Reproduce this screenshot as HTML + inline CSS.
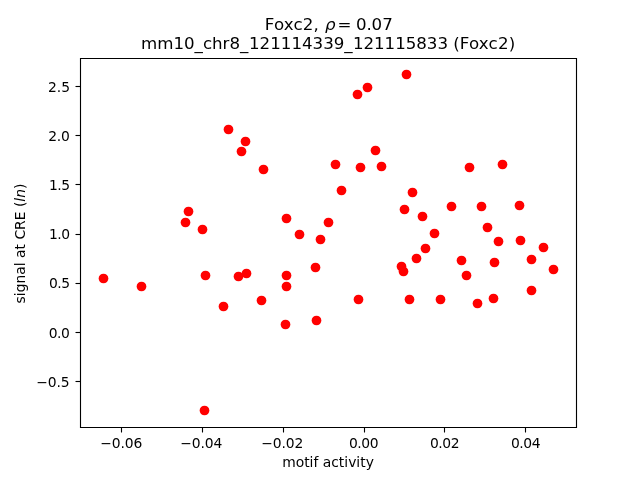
<!DOCTYPE html>
<html lang="en">
<head>
<meta charset="utf-8">
<title>Foxc2 motif activity vs signal at CRE</title>
<style>
html,body{margin:0;padding:0;background:#fff;}
body{width:640px;height:480px;overflow:hidden;}
svg{display:block;}
text{font-family:"DejaVu Sans","Liberation Sans",sans-serif;fill:#000;}
.tk{font-size:13.889px;}
.lb{font-size:13.889px;}
.tt{font-size:16.667px;}
.it{font-style:italic;}
</style>
</head>
<body>
<svg width="640" height="480" viewBox="0 0 640 480">
<rect x="0" y="0" width="640" height="480" fill="#ffffff"/>
<g fill="#ff0000">
<circle cx="228.5" cy="129.5" r="4.86"/>
<circle cx="245.5" cy="141.5" r="4.86"/>
<circle cx="241.5" cy="151.5" r="4.86"/>
<circle cx="263.5" cy="169.5" r="4.86"/>
<circle cx="357.5" cy="94.5" r="4.86"/>
<circle cx="367.5" cy="87.5" r="4.86"/>
<circle cx="335.5" cy="164.5" r="4.86"/>
<circle cx="360.5" cy="167.5" r="4.86"/>
<circle cx="375.5" cy="150.5" r="4.86"/>
<circle cx="381.5" cy="166.5" r="4.86"/>
<circle cx="406.5" cy="74.5" r="4.86"/>
<circle cx="469.5" cy="167.5" r="4.86"/>
<circle cx="502.5" cy="164.5" r="4.86"/>
<circle cx="188.5" cy="211.5" r="4.86"/>
<circle cx="185.5" cy="222.5" r="4.86"/>
<circle cx="202.5" cy="229.5" r="4.86"/>
<circle cx="103.5" cy="278.5" r="4.86"/>
<circle cx="141.5" cy="286.5" r="4.86"/>
<circle cx="205.5" cy="275.5" r="4.86"/>
<circle cx="238.5" cy="276.5" r="4.86"/>
<circle cx="341.5" cy="190.5" r="4.86"/>
<circle cx="286.5" cy="218.5" r="4.86"/>
<circle cx="328.5" cy="222.5" r="4.86"/>
<circle cx="299.5" cy="234.5" r="4.86"/>
<circle cx="320.5" cy="239.5" r="4.86"/>
<circle cx="315.5" cy="267.5" r="4.86"/>
<circle cx="246.5" cy="273.5" r="4.86"/>
<circle cx="286.5" cy="275.5" r="4.86"/>
<circle cx="286.5" cy="286.5" r="4.86"/>
<circle cx="412.5" cy="192.5" r="4.86"/>
<circle cx="404.5" cy="209.5" r="4.86"/>
<circle cx="422.5" cy="216.5" r="4.86"/>
<circle cx="451.5" cy="206.5" r="4.86"/>
<circle cx="481.5" cy="206.5" r="4.86"/>
<circle cx="519.5" cy="205.5" r="4.86"/>
<circle cx="487.5" cy="227.5" r="4.86"/>
<circle cx="434.5" cy="233.5" r="4.86"/>
<circle cx="498.5" cy="241.5" r="4.86"/>
<circle cx="520.5" cy="240.5" r="4.86"/>
<circle cx="425.5" cy="248.5" r="4.86"/>
<circle cx="416.5" cy="258.5" r="4.86"/>
<circle cx="461.5" cy="260.5" r="4.86"/>
<circle cx="494.5" cy="262.5" r="4.86"/>
<circle cx="401.5" cy="266.5" r="4.86"/>
<circle cx="403.5" cy="271.5" r="4.86"/>
<circle cx="466.5" cy="275.5" r="4.86"/>
<circle cx="543.5" cy="247.5" r="4.86"/>
<circle cx="531.5" cy="259.5" r="4.86"/>
<circle cx="553.5" cy="269.5" r="4.86"/>
<circle cx="531.5" cy="290.5" r="4.86"/>
<circle cx="223.5" cy="306.5" r="4.86"/>
<circle cx="261.5" cy="300.5" r="4.86"/>
<circle cx="358.5" cy="299.5" r="4.86"/>
<circle cx="285.5" cy="324.5" r="4.86"/>
<circle cx="316.5" cy="320.5" r="4.86"/>
<circle cx="409.5" cy="299.5" r="4.86"/>
<circle cx="440.5" cy="299.5" r="4.86"/>
<circle cx="477.5" cy="303.5" r="4.86"/>
<circle cx="493.5" cy="298.5" r="4.86"/>
<circle cx="204.5" cy="410.5" r="4.86"/>
</g>
<g fill="none" stroke="#000" stroke-width="1.11" stroke-linecap="square">
<path d="M80.5 58.5H576.5V427.5H80.5Z"/>
</g>
<g stroke="#000" stroke-width="1.11">
<line x1="121.5" y1="427.5" x2="121.5" y2="432.5"/>
<line x1="202.5" y1="427.5" x2="202.5" y2="432.5"/>
<line x1="283.5" y1="427.5" x2="283.5" y2="432.5"/>
<line x1="364.5" y1="427.5" x2="364.5" y2="432.5"/>
<line x1="444.5" y1="427.5" x2="444.5" y2="432.5"/>
<line x1="525.5" y1="427.5" x2="525.5" y2="432.5"/>
<line x1="80.5" y1="86.5" x2="75.5" y2="86.5"/>
<line x1="80.5" y1="135.5" x2="75.5" y2="135.5"/>
<line x1="80.5" y1="184.5" x2="75.5" y2="184.5"/>
<line x1="80.5" y1="234.5" x2="75.5" y2="234.5"/>
<line x1="80.5" y1="283.5" x2="75.5" y2="283.5"/>
<line x1="80.5" y1="332.5" x2="75.5" y2="332.5"/>
<line x1="80.5" y1="381.5" x2="75.5" y2="381.5"/>
</g>
<g class="tk" text-anchor="middle">
<text x="121.25" y="447.50" textLength="42.03">−0.06</text>
<text x="201.25" y="447.50" textLength="42.03">−0.04</text>
<text x="282.25" y="447.50" textLength="42.03">−0.02</text>
<text x="363.75" y="447.50" textLength="29.41">0.00</text>
<text x="444.75" y="447.50" textLength="29.41">0.02</text>
<text x="525.75" y="447.50" textLength="29.41">0.04</text>
</g>
<g class="tk" text-anchor="middle">
<text x="58.96" y="91.55">2.5</text>
<text x="58.96" y="140.55" textLength="21.58">2.0</text>
<text x="59.46" y="189.55" textLength="21.08">1.5</text>
<text x="59.46" y="238.55" textLength="21.08">1.0</text>
<text x="59.46" y="287.55" textLength="21.08">0.5</text>
<text x="59.21" y="337.55" textLength="21.08">0.0</text>
<text x="52.90" y="386.55" textLength="33.20">−0.5</text>
</g>
<text class="lb" text-anchor="middle" x="328.00" y="466.50">motif activity</text>
<text class="lb" text-anchor="middle" transform="translate(24.50 243.50) rotate(-90)">signal at CRE (<tspan class="it">ln</tspan>)</text>
<text class="tt" y="30"><tspan x="264.75" letter-spacing="0.15">Foxc2, </tspan><tspan class="it" x="325">ρ</tspan><tspan x="332.1"> = </tspan><tspan x="355.9" letter-spacing="-0.08">0.07</tspan></text>
<text class="tt" y="48.5"><tspan x="140.95" letter-spacing="0">mm10_chr8_</tspan><tspan x="249.0" letter-spacing="0">121114339_</tspan><tspan x="352.95" letter-spacing="-0.04">121115833 </tspan><tspan x="453.2" letter-spacing="0.17">(Foxc2)</tspan></text>
</svg>
</body>
</html>
